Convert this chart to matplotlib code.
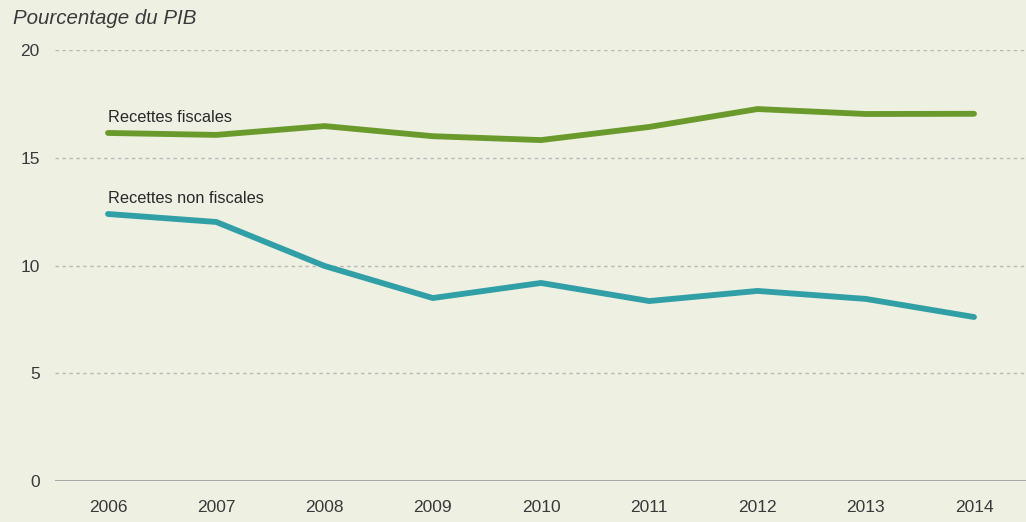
import matplotlib
matplotlib.use('Agg')
import matplotlib.pyplot as plt

# données (pourcentage du PIB)
years = [2006, 2007, 2008, 2009, 2010, 2011, 2012, 2013, 2014]
fiscales = [16.15, 16.06, 16.47, 16.0, 15.82, 16.43, 17.26, 17.03, 17.04]
non_fiscales = [12.39, 12.02, 9.98, 8.49, 9.19, 8.35, 8.82, 8.45, 7.61]
yticks = [0, 5, 10, 15, 20]

bg = '#EEF0E2'
green = '#6A9A2C'
teal = '#31A0A6'
txt = '#3a3a3a'

plt.rcParams['font.family'] = ['Liberation Sans', 'DejaVu Sans']

fig = plt.figure(figsize=(10.26, 5.22), dpi=100, facecolor=bg)
ax = fig.add_axes([55 / 1026, 41 / 522, 971 / 1026, 431 / 522], facecolor=bg)

ax.plot(years, fiscales, color=green, lw=4.2, solid_capstyle='round', solid_joinstyle='round', zorder=3)
ax.plot(years, non_fiscales, color=teal, lw=4.2, solid_capstyle='round', solid_joinstyle='round', zorder=3)

ax.set_xlim(2006 - 53 / 108.25, 2014 + 52 / 108.25)
ax.set_ylim(0, 20)

# grille pointillée
for v in yticks[1:]:
    ax.axhline(v, color='#b8b8b4', lw=1, ls=(0, (2.5, 2.5)), zorder=1)
ax.axhline(0, color='#a0a0a0', lw=1.3, zorder=2)

for s in ax.spines.values():
    s.set_visible(False)

ax.set_yticks(yticks)
ax.set_yticklabels([str(v) for v in yticks])
ax.set_xticks(years)
ax.set_xticklabels([str(y) for y in years])
ax.tick_params(axis='both', length=0, labelsize=12.5, colors=txt)
ax.tick_params(axis='y', pad=11)
ax.tick_params(axis='x', pad=14)

# étiquettes des séries
ax.text(years[0], fiscales[0] + 0.35, 'Recettes fiscales', fontsize=11.8,
        color='#2a2a2a', ha='left', va='bottom')
ax.text(years[0], non_fiscales[0] + 0.35, 'Recettes non fiscales', fontsize=11.8,
        color='#2a2a2a', ha='left', va='bottom')

fig.text(13 / 1026, 1 - 18 / 522, 'Pourcentage du PIB', fontsize=14.8, style='italic',
         color=txt, ha='left', va='center')

fig.savefig('out.png', dpi=100, facecolor=bg)
